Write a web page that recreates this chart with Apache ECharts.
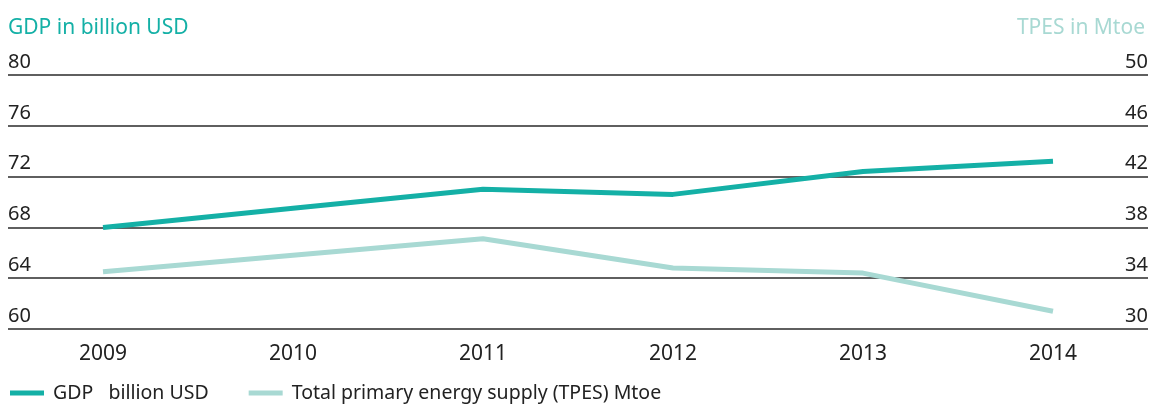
<!DOCTYPE html>
<html>
<head>
<meta charset="utf-8">
<script src="https://cdn.jsdelivr.net/npm/echarts@6/dist/echarts.min.js"></script>
<style>
  html, body { margin: 0; padding: 0; background: #fff; }
  #chart { width: 1152px; height: 405px; }
</style>
</head>
<body>
<div id="chart"></div>
<script>
const years = ["2009", "2010", "2011", "2012", "2013", "2014"];
const gdp = [68.0, 69.5, 71.0, 70.6, 72.4, 73.2];
const tpes = [34.5, 35.8, 37.1, 34.8, 34.4, 31.4];
const gdpTicks = { min: 60, max: 80, interval: 4 };
const tpesTicks = { min: 30, max: 50, interval: 4 };

const font = "Noto Sans";
const textColor = "#222";
const gdpColor = "#14b0a6";
const tpesColor = "#a8d9d3";

const chart = echarts.init(document.getElementById("chart"));

chart.setOption({
  animation: false,
  textStyle: { fontFamily: font },
  title: [
    {
      text: "GDP in billion USD",
      left: 3,
      top: 13,
      textStyle: { color: gdpColor, fontSize: 21, fontWeight: "normal", fontFamily: font }
    },
    {
      text: "TPES in Mtoe",
      right: 2,
      top: 13,
      textStyle: { color: tpesColor, fontSize: 21, fontWeight: "normal", fontFamily: font }
    }
  ],
  legend: {
    left: 5,
    top: 378,
    itemWidth: 34,
    itemHeight: 5,
    itemGap: 40,
    icon: "rect",
    textStyle: { color: textColor, fontSize: 19.5, fontFamily: font, padding: [0, 0, 0, 4] },
    data: ["GDP   billion USD", "Total primary energy supply (TPES) Mtoe"]
  },
  grid: { left: 8, right: 4, top: 75, bottom: 76 },
  xAxis: {
    type: "category",
    data: years,
    boundaryGap: true,
    axisLine: { show: false },
    axisTick: { show: false },
    axisLabel: { color: textColor, fontSize: 21, margin: 15, fontFamily: font }
  },
  yAxis: [
    {
      type: "value",
      min: gdpTicks.min,
      max: gdpTicks.max,
      interval: gdpTicks.interval,
      axisLine: { show: false },
      axisTick: { show: false },
      axisLabel: {
        inside: true,
        margin: 0,
        align: "left",
        verticalAlign: "bottom",
        padding: [0, 0, 3, 0],
        color: textColor,
        fontSize: 20,
        fontFamily: font
      },
      splitLine: { lineStyle: { color: "#2a2a2a", width: 1.5 } }
    },
    {
      type: "value",
      position: "right",
      min: tpesTicks.min,
      max: tpesTicks.max,
      interval: tpesTicks.interval,
      axisLine: { show: false },
      axisTick: { show: false },
      axisLabel: {
        inside: true,
        margin: 0,
        align: "right",
        verticalAlign: "bottom",
        padding: [0, 0, 3, 0],
        color: textColor,
        fontSize: 20,
        fontFamily: font
      },
      splitLine: { show: false }
    }
  ],
  series: [
    {
      name: "GDP   billion USD",
      type: "line",
      yAxisIndex: 0,
      showSymbol: false,
      symbol: "none",
      color: gdpColor,
      lineStyle: { color: gdpColor, width: 5 },
      data: gdp
    },
    {
      name: "Total primary energy supply (TPES) Mtoe",
      type: "line",
      yAxisIndex: 1,
      showSymbol: false,
      symbol: "none",
      color: tpesColor,
      lineStyle: { color: tpesColor, width: 5 },
      data: tpes
    }
  ]
});
</script>
</body>
</html>
